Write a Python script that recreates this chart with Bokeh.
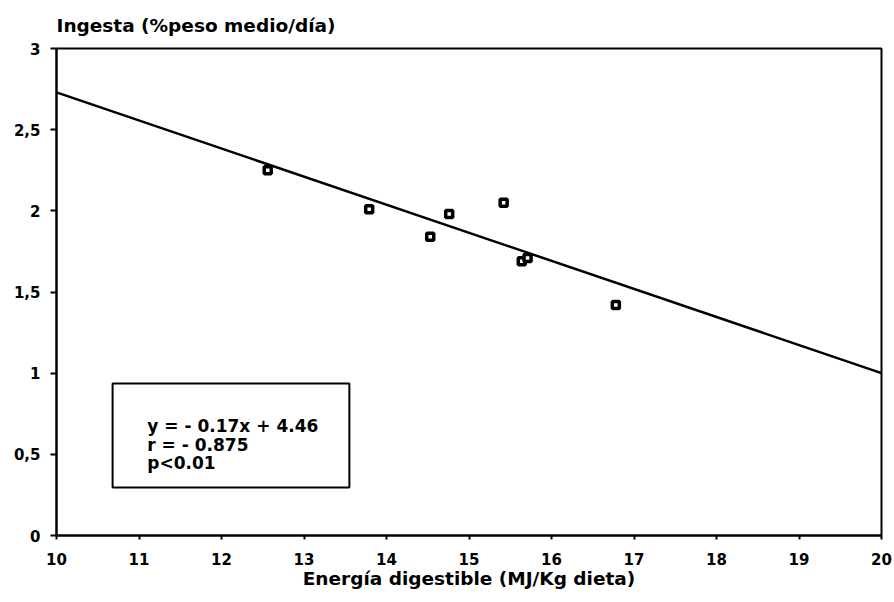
from bokeh.plotting import figure
from bokeh.models import Label, BoxAnnotation, FixedTicker, Range1d
from bokeh.embed import file_html
from bokeh.resources import INLINE

# Data
energia = [12.56, 13.79, 14.76, 14.53, 15.42, 15.64, 15.71, 16.78]
ingesta = [2.25, 2.01, 1.98, 1.84, 2.05, 1.69, 1.71, 1.42]
reg_x = [10, 20]
reg_y = [2.73, 1.00]
x_ticks = [10, 11, 12, 13, 14, 15, 16, 17, 18, 19, 20]
y_ticks = [0, 0.5, 1, 1.5, 2, 2.5, 3]
y_tick_labels = ["0", "0,5", "1", "1,5", "2", "2,5", "3"]
stats_lines = ["y = - 0.17x + 4.46", "r = - 0.875", "p<0.01"]
title_text = "Ingesta (%peso medio/día)"
x_label = "Energía digestible (MJ/Kg dieta)"

FONT = "DejaVu Sans"

p = figure(width=894, height=602, output_backend="svg", toolbar_location=None,
           x_range=Range1d(10, 20), y_range=Range1d(0, 3),
           min_border_left=56, min_border_right=13, min_border_top=48, min_border_bottom=67)
p.background_fill_color = "white"
p.border_fill_color = "white"
p.outline_line_color = "black"
p.outline_line_width = 2
p.xgrid.visible = False
p.ygrid.visible = False

p.title.text = title_text
p.title.align = "left"
p.title.text_font = FONT
p.title.text_font_style = "bold"
p.title.text_font_size = "18.5px"
p.title.text_color = "black"
p.title.text_line_height = 0.8
p.title.offset = 0
p.title.standoff = 25

for ax in (p.xaxis[0], p.yaxis[0]):
    ax.axis_line_width = 2
    ax.axis_line_color = "black"
    ax.major_tick_line_width = 2
    ax.major_tick_line_color = "black"
    ax.minor_tick_line_color = None
    ax.major_tick_in = 0
    ax.major_label_text_font = FONT
    ax.major_label_text_font_style = "bold"
    ax.major_label_text_font_size = "15px"
    ax.major_label_text_color = "black"

p.xaxis.ticker = FixedTicker(ticks=x_ticks)
p.yaxis.ticker = FixedTicker(ticks=y_ticks)
p.yaxis.major_label_overrides = {t: l for t, l in zip(y_ticks, y_tick_labels)}
p.xaxis.major_tick_out = 4
p.yaxis.major_tick_out = 6
p.xaxis.major_label_standoff = 13
p.yaxis.major_label_standoff = 10

p.xaxis.axis_label = x_label
p.xaxis.axis_label_text_font = FONT
p.xaxis.axis_label_text_font_style = "bold"
p.xaxis.axis_label_text_font_size = "18.5px"
p.xaxis.axis_label_text_color = "black"
p.xaxis.axis_label_standoff = 0

# regression line
p.line(reg_x, reg_y, line_color="black", line_width=2.5)

# points
p.scatter(energia, ingesta, marker="square", size=7, fill_color="white",
          line_color="black", line_width=3.5)

# stats box
box = BoxAnnotation(left=10.68, right=13.55, bottom=0.296, top=0.936,
                    fill_color="white", fill_alpha=1.0, line_color="black",
                    line_alpha=1.0, line_width=2)
p.add_layout(box)

stats_y = [0.675, 0.556, 0.445]
for txt, ty in zip(stats_lines, stats_y):
    p.add_layout(Label(x=11.10, y=ty, text=txt, text_font=FONT,
                       text_font_style="bold", text_font_size="17px", text_color="black",
                       text_baseline="alphabetic"))

open("out.html", "w").write(file_html(p, INLINE))
